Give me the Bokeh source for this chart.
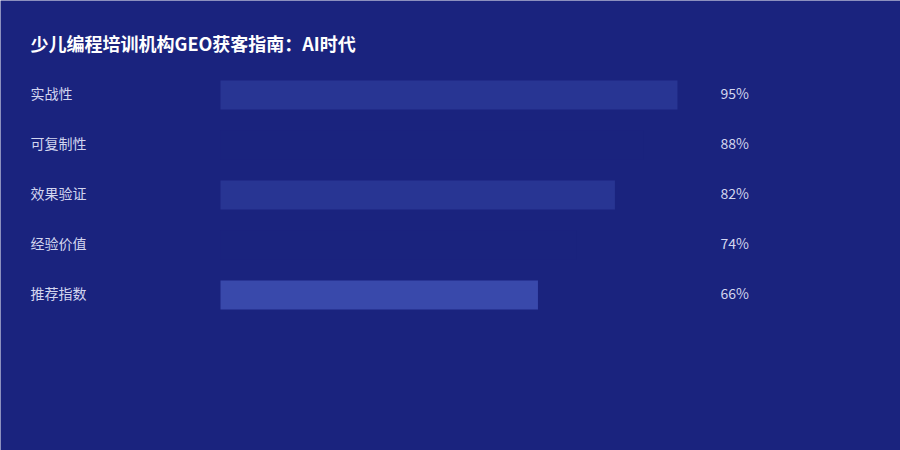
from bokeh.plotting import figure
from bokeh.models import ColumnDataSource, Range1d, Label
from bokeh.core.properties import value
from bokeh.embed import file_html
from bokeh.resources import INLINE

title_text = "少儿编程培训机构GEO获客指南：AI时代"
categories = ["实战性", "可复制性", "效果验证", "经验价值", "推荐指数"]
values = [95, 88, 82, 74, 66]
bar_colors = ["#283593", "#1a237e", "#283593", "#1a237e", "#3949ab"]
value_labels = [f"{v}%" for v in values]

BG = "#1a237e"
W, H = 900, 450
PX_PER_UNIT = 4.81
X0 = 220  # screen x of value 0
ROW_PX = 50
ROW0 = 94.5

idx = list(range(len(categories)))
src = ColumnDataSource(dict(
    y=idx, v=values, c=bar_colors, cat=categories, lab=value_labels,
    lx=[-(X0 - 30) / PX_PER_UNIT] * len(idx),
    vx=[(720 - X0) / PX_PER_UNIT] * len(idx),
))

p = figure(width=W, height=H, output_backend="svg", toolbar_location=None,
           x_range=Range1d(-X0 / PX_PER_UNIT, (W - X0) / PX_PER_UNIT),
           y_range=Range1d((H - ROW0) / ROW_PX, -ROW0 / ROW_PX),
           min_border=0, outline_line_color=None)
p.axis.visible = False
p.grid.visible = False
p.background_fill_color = BG
p.border_fill_color = BG

p.hbar(y="y", left=0, right="v", height=29 / ROW_PX, fill_color="c",
       line_color=None, source=src)

p.text(x="lx", y="y", text="cat", source=src, text_baseline="middle",
       text_align="left", text_font=value("Noto Sans CJK SC"),
       text_font_size="14px", text_color="#d3d6ef", y_offset=-2)
p.text(x="vx", y="y", text="lab", source=src, text_baseline="middle",
       text_align="left", text_font=value("Noto Sans CJK SC"),
       text_font_size="14px", text_color="#d3d6ef", y_offset=-2)

p.add_layout(Label(x=30, y=H - 42, x_units="screen", y_units="screen",
                   text=title_text, text_font="Noto Sans CJK SC",
                   text_font_style="bold", text_font_size="18px",
                   text_color="#ffffff", text_baseline="middle"))

open("out.html", "w").write(file_html(p, INLINE))
